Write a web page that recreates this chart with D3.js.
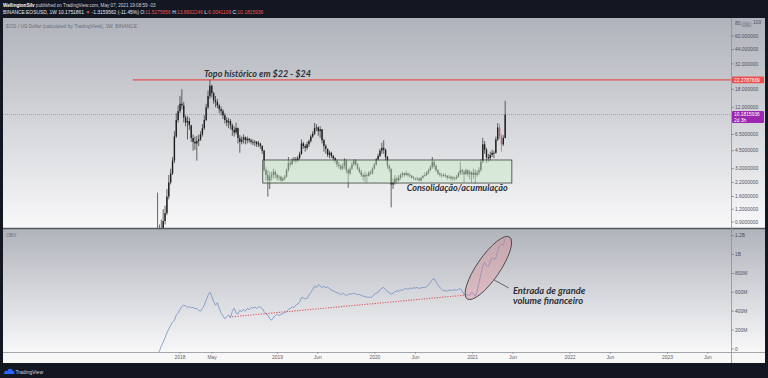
<!DOCTYPE html>
<html>
<head>
<meta charset="utf-8">
<script src="https://cdn.jsdelivr.net/npm/d3@7"></script>
<style>
  body { margin: 0; background: #131722; }
  svg { display: block; }
</style>
</head>
<body>
<div id="chart"></div>
<script>
var width = 768,
    height = 378;

var paneLeft = 3, axisX = 731, paneRight = 765;
var priceTop = 18, priceBottom = 228, obvTop = 229, obvBottom = 352, timeBottom = 363;

// weekly candles, first week starts 2017-10-02
var firstWeek = "2017-10-02";
var firstOpen = 0.5;
var closes = [
  0.55, 0.62, 0.72, 0.78, 0.92, 1.1, 1.6, 2.2, 2.7, 3.6,
  6.2, 9.0, 11.0, 13.0, 12.5, 9.5, 8.5, 8.8, 8.0, 6.0,
  5.5, 5.3, 5.6, 5.8, 6.5, 7.5, 9.0, 12.0, 15.5, 19.5,
  16.5, 14.0, 13.5, 12.5, 11.5, 11.0, 10.0, 9.0, 8.5, 8.8,
  8.0, 7.2, 6.8, 7.5, 6.0, 5.5, 5.8, 6.1, 5.7, 5.9,
  5.7, 5.5, 5.4, 5.5, 5.2, 5.3, 5.0, 4.5, 2.9, 2.6,
  2.3, 2.5, 2.6, 2.8, 2.6, 2.45, 2.5, 2.3, 2.4, 2.5,
  2.9, 3.4, 3.3, 3.6, 3.7, 3.6, 3.8, 4.2, 5.3, 5.0,
  4.8, 5.2, 5.6, 6.2, 6.6, 7.5, 7.6, 7.0, 7.3, 5.7,
  5.0, 4.7, 4.1, 4.3, 4.0, 3.8, 3.6, 3.3, 3.2, 3.0,
  3.2, 3.6, 2.9, 2.7, 3.0, 3.3, 3.6, 3.3, 3.0, 2.8,
  2.6, 2.5, 2.6, 2.55, 2.75, 2.7, 3.0, 3.3, 3.7, 4.0,
  4.5, 4.8, 4.6, 3.9, 3.2, 3.0, 2.1, 2.2, 2.4, 2.3,
  2.45, 2.6, 2.7, 2.6, 2.7, 2.6, 2.55, 2.45, 2.4, 2.35,
  2.4, 2.3, 2.45, 2.55, 2.6, 2.75, 2.9, 3.1, 3.5, 3.2,
  2.9, 2.7, 2.6, 2.55, 2.6, 2.55, 2.45, 2.5, 2.4, 2.45,
  2.4, 2.5, 2.7, 2.9, 2.8, 2.65, 2.9, 2.65, 2.8, 2.6,
  2.75, 2.6, 2.75, 2.9, 3.5, 5.2, 4.6, 3.9, 3.8, 4.1,
  4.3, 4.3, 5.8, 7.6, 6.2, 5.2, 6.0, 10.18
];
var highs = [
  0.65, 1.75, 0.85, 0.95, 1.2, 1.3, 1.9, 2.6, 3.0, 3.9,
  7.0, 10.5, 12.5, 15.5, 18.0, 13.5, 10.0, 9.8, 9.5, 8.0,
  6.5, 6.2, 6.3, 6.5, 7.0, 8.2, 10.0, 13.0, 17.5, 22.3,
  20.0, 17.0, 15.5, 14.5, 13.0, 12.2, 11.5, 10.5, 9.6, 9.4,
  9.2, 8.3, 7.8, 8.5, 7.6, 6.4, 6.2, 6.5, 6.2, 6.2,
  6.0, 5.9, 5.8, 5.7, 5.6, 5.6, 5.4, 5.1, 4.6, 3.1,
  2.9, 2.8, 2.8, 3.0, 2.9, 2.7, 2.6, 2.55, 2.5, 2.6,
  3.0, 3.9, 3.6, 3.8, 3.9, 3.9, 4.0, 4.4, 5.8, 5.5,
  5.2, 5.5, 5.8, 6.5, 7.0, 8.4, 8.2, 7.8, 7.8, 7.3,
  5.9, 5.2, 4.7, 4.5, 4.4, 4.1, 3.9, 3.7, 3.5, 3.3,
  3.4, 3.8, 3.7, 3.0, 3.1, 3.5, 3.7, 3.7, 3.4, 3.1,
  2.9, 2.7, 2.8, 2.7, 2.85, 2.9, 3.1, 3.4, 3.8, 4.2,
  4.7, 5.4, 5.7, 4.7, 4.0, 3.3, 3.0, 2.4, 2.6, 2.5,
  2.6, 2.7, 2.8, 2.75, 2.85, 2.75, 2.7, 2.6, 2.55, 2.45,
  2.5, 2.45, 2.5, 2.6, 2.75, 2.85, 3.0, 3.25, 3.9, 3.6,
  3.3, 2.95, 2.75, 2.7, 2.7, 2.7, 2.6, 2.6, 2.55, 2.55,
  2.5, 2.6, 2.8, 3.5, 3.0, 2.9, 3.0, 2.95, 2.9, 2.8,
  3.0, 2.95, 2.9, 3.1, 3.7, 6.0, 5.6, 4.8, 4.2, 4.4,
  4.6, 4.5, 6.2, 8.4, 8.2, 6.6, 6.4, 13.89
];
var lows = [
  0.45, 0.5, 0.6, 0.7, 0.75, 0.85, 1.05, 1.5, 2.1, 2.6,
  3.4, 6.0, 8.5, 10.5, 11.5, 8.5, 7.8, 5.8, 7.2, 5.5,
  4.5, 4.6, 3.6, 5.0, 5.6, 6.2, 7.2, 8.8, 11.5, 14.5,
  15.0, 13.0, 12.0, 11.8, 10.5, 10.0, 9.2, 8.3, 7.8, 7.5,
  7.3, 6.3, 6.2, 6.5, 5.3, 4.3, 5.2, 5.3, 5.2, 5.3,
  5.4, 5.2, 5.1, 5.0, 4.9, 4.9, 4.7, 4.2, 2.8, 2.3,
  1.6, 1.9, 2.3, 2.4, 2.4, 2.3, 2.3, 2.25, 2.25, 2.3,
  2.45, 2.8, 3.1, 3.3, 3.5, 3.4, 3.5, 3.7, 4.1, 4.7,
  4.4, 4.6, 4.9, 5.4, 6.0, 6.4, 7.0, 6.3, 6.0, 5.3,
  4.4, 4.2, 3.9, 3.8, 3.8, 3.6, 3.4, 3.1, 3.0, 2.9,
  2.9, 3.0, 2.7, 1.95, 2.6, 2.9, 3.2, 3.2, 2.9, 2.7,
  2.5, 2.3, 2.2, 2.2, 2.5, 2.6, 2.65, 2.95, 3.2, 3.6,
  3.9, 4.2, 4.2, 3.6, 3.0, 2.8, 1.25, 1.9, 2.1, 2.15,
  2.25, 2.35, 2.45, 2.5, 2.55, 2.5, 2.45, 2.4, 2.35, 2.3,
  2.3, 2.25, 2.25, 2.4, 2.5, 2.55, 2.65, 2.85, 3.0, 3.0,
  2.8, 2.6, 2.5, 2.45, 2.5, 2.45, 2.35, 2.4, 2.3, 2.3,
  2.3, 2.35, 2.45, 2.6, 2.6, 2.2, 2.6, 2.5, 2.35, 2.2,
  2.4, 2.15, 2.5, 2.6, 2.8, 3.4, 4.2, 3.4, 3.5, 3.6,
  3.9, 3.8, 4.2, 5.6, 5.9, 4.4, 5.0, 5.95
];
var redWeeks = ["2021-04-12", "2021-04-19"];

// OBV in millions, same weeks
var obvM = [
  -120, -60, -20, 30, 70, 120, 170, 210, 250, 285,
  300, 360, 380, 420, 450, 463, 455, 440, 448, 437,
  441, 425, 430, 410, 400, 432, 463, 516, 570, 600,
  560, 500, 463, 490, 430, 380, 350, 320, 345, 360,
  330, 400, 432, 380, 370, 410, 395, 420, 400, 430,
  415, 440, 432, 445, 430, 442, 445, 430, 395, 370,
  360, 320, 305, 335, 350, 370, 355, 365, 375, 385,
  395, 420, 430, 445, 440, 465, 475, 500, 545, 540,
  530, 535, 570, 600, 630, 665, 650, 680, 668, 650,
  665, 650, 655, 640, 625, 615, 605, 595, 590, 575,
  590, 580, 565, 575, 585, 580, 590, 583, 575, 578,
  565, 560, 555, 548, 550, 545, 555, 580, 590, 600,
  625, 645, 650, 630, 605, 595, 580, 590, 605, 615,
  610, 625, 620, 635, 640, 630, 645, 640, 648, 645,
  650, 640, 648, 652, 650, 660, 680, 705, 735, 745,
  710, 680, 650, 635, 615, 620, 612, 625, 618, 622,
  628, 620, 632, 640, 615, 575, 578, 570, 568, 600,
  585, 560, 610, 705, 790, 880, 915, 880, 870, 930,
  965, 950, 958, 1040, 1095, 1110, 1100, 1165
];

var priceTicks = [0.9, 1.2, 1.6, 2.2, 3, 4.5, 6.5, 12, 18, 32, 44, 60];
var obvTicks = [0, 200, 400, 600, 800, 1000, 1200];
var obvTickLabels = ["0", "200M", "400M", "600M", "800M", "1B", "1.2B"];
var timeTickDates = ["2018-01-01", "2018-05-01", "2019-01-01", "2019-06-01", "2020-01-01", "2020-06-01",
                     "2021-01-01", "2021-06-01", "2022-01-01", "2022-06-01", "2023-01-01", "2023-06-01"];
var timeTickLabels = ["2018", "May", "2019", "Jun", "2020", "Jun", "2021", "Jun", "2022", "Jun", "2023", "Jun"];

var athPrice = 22.2787669, lastPrice = 10.1815936;
var athLineStart = "2017-07-08";
var boxRange = ["2018-11-07", "2021-05-28"], boxPrices = [3.65, 2.17];
var trendDates = ["2018-07-06", "2020-12-07"], trendValues = [339, 571];

var parse = d3.utcParse("%Y-%m-%d");
var weeks = closes.map(function(c, i) { return d3.utcDay.offset(parse(firstWeek), 7 * i); });
var fmtDay = d3.utcFormat("%Y-%m-%d");

var x = d3.scaleUtc()
    .domain([parse("2018-01-01"), parse("2023-01-01")])
    .range([180, 667.5]);
var y = d3.scaleLog().domain([0.9, 60]).range([222, 36]);
var yObv = d3.scaleLinear().domain([0, 1200]).range([349, 235.6]);

var svg = d3.select("#chart").append("svg")
    .attr("width", width)
    .attr("height", height)
    .style("font-family", "'Liberation Sans', Arial, sans-serif");

var defs = svg.append("defs");
var grad = defs.append("linearGradient").attr("id", "paneGrad")
    .attr("x1", 0).attr("y1", 0).attr("x2", 0).attr("y2", 1);
grad.append("stop").attr("offset", "0%").attr("stop-color", "#b0b3bb");
grad.append("stop").attr("offset", "100%").attr("stop-color", "#f8f8f9");
defs.append("clipPath").attr("id", "clipPrice").append("rect")
    .attr("x", paneLeft).attr("y", priceTop).attr("width", axisX - paneLeft).attr("height", priceBottom - priceTop);
defs.append("clipPath").attr("id", "clipObv").append("rect")
    .attr("x", paneLeft).attr("y", obvTop).attr("width", axisX - paneLeft).attr("height", obvBottom - obvTop);

// backgrounds
svg.append("rect").attr("width", width).attr("height", height).attr("fill", "#131722");
svg.append("rect").attr("x", paneLeft).attr("y", priceTop)
    .attr("width", paneRight - paneLeft).attr("height", priceBottom - priceTop).attr("fill", "url(#paneGrad)");
svg.append("rect").attr("x", paneLeft).attr("y", obvTop)
    .attr("width", paneRight - paneLeft).attr("height", obvBottom - obvTop).attr("fill", "url(#paneGrad)");
svg.append("rect").attr("x", paneLeft).attr("y", obvBottom)
    .attr("width", paneRight - paneLeft).attr("height", timeBottom - obvBottom).attr("fill", "#f7f7f8");

// header
var h1 = svg.append("text").attr("x", 3).attr("y", 7).attr("font-size", 4.6).attr("fill", "#d1d4dc");
h1.append("tspan").attr("font-weight", "bold").attr("fill", "#ffffff").text("WellingtonSilv");
h1.append("tspan").text(" published on TradingView.com, May 07, 2021 19:08:59 -03");

var h2 = svg.append("text").attr("x", 3).attr("y", 13.8).attr("font-size", 4.9).attr("fill", "#e6e8ee");
var h2parts = [
  ["BINANCE:EOSUSD, 1W  10.1751861 ", "#e6e8ee"], ["\u25BC", "#ef5350"], [" -1.3159562 (-11.45%) O:", "#e6e8ee"],
  ["11.5275656", "#ef5350"], [" H:", "#e6e8ee"], ["13.8902246", "#ef5350"], [" L:", "#e6e8ee"],
  ["6.0041109", "#ef5350"], [" C:", "#e6e8ee"], ["10.1815936", "#ef5350"]
];
h2parts.forEach(function(p) { h2.append("tspan").attr("fill", p[1]).text(p[0]); });

// price pane
var price = svg.append("g").attr("clip-path", "url(#clipPrice)");

price.append("line")
    .attr("x1", paneLeft).attr("x2", axisX)
    .attr("y1", y(lastPrice)).attr("y2", y(lastPrice))
    .attr("stroke", "#a184b0").attr("stroke-width", 0.7).attr("stroke-dasharray", "1,1");

price.append("line")
    .attr("x1", x(parse(athLineStart))).attr("x2", axisX)
    .attr("y1", y(athPrice)).attr("y2", y(athPrice))
    .attr("stroke", "#e4544e").attr("stroke-width", 1.3);

var candles = price.selectAll("g.candle")
    .data(closes.map(function(c, i) {
      return { date: weeks[i], o: i ? closes[i - 1] : firstOpen, h: highs[i], l: lows[i], c: c };
    }))
    .enter().append("g").attr("class", "candle");

candles.append("line")
    .attr("x1", function(d) { return x(d.date); })
    .attr("x2", function(d) { return x(d.date); })
    .attr("y1", function(d) { return y(d.h); })
    .attr("y2", function(d) { return y(d.l); })
    .attr("stroke", function(d) { return redWeeks.indexOf(fmtDay(d.date)) >= 0 ? "#c95c66" : "#2a2a2a"; })
    .attr("stroke-width", 0.7);

candles.append("rect")
    .attr("x", function(d) { return x(d.date) - 0.7; })
    .attr("width", 1.4)
    .attr("y", function(d) { return Math.min(y(d.o), y(d.c)); })
    .attr("height", function(d) { return Math.max(0.8, Math.abs(y(d.o) - y(d.c))); })
    .attr("fill", function(d) { return redWeeks.indexOf(fmtDay(d.date)) >= 0 ? "#c95c66" : "#1e1e1e"; });

// consolidation box
price.append("rect")
    .attr("x", x(parse(boxRange[0])))
    .attr("width", x(parse(boxRange[1])) - x(parse(boxRange[0])))
    .attr("y", y(boxPrices[0]))
    .attr("height", y(boxPrices[1]) - y(boxPrices[0]))
    .attr("fill", "rgba(200,236,200,0.5)")
    .attr("stroke", "#3d3d3d").attr("stroke-width", 0.8);

var noteFont = "Lato, 'Open Sans', sans-serif";
price.append("text")
    .attr("x", x(parse("2018-04-01"))).attr("y", y(24.0))
    .attr("font-family", noteFont).attr("font-style", "italic").attr("font-weight", 700)
    .attr("font-size", 9).attr("fill", "#2f3138")
    .text("Topo hist\u00f3rico em $22 - $24");

price.append("text")
    .attr("x", x(parse("2020-04-29"))).attr("y", y(1.81))
    .attr("font-family", noteFont).attr("font-style", "italic").attr("font-weight", 700)
    .attr("font-size", 9.1).attr("fill", "#2f3138")
    .text("Consolida\u00e7\u00e3o/acumula\u00e7\u00e3o");

svg.append("text").attr("x", 6).attr("y", 27.5).attr("font-size", 4.9).attr("fill", "#6b6f7a")
    .text("EOS / US Dollar (calculated by TradingView), 1W, BINANCE");

// OBV pane
var obvG = svg.append("g").attr("clip-path", "url(#clipObv)");

obvG.append("line")
    .attr("x1", x(parse(trendDates[0]))).attr("x2", x(parse(trendDates[1])))
    .attr("y1", yObv(trendValues[0])).attr("y2", yObv(trendValues[1]))
    .attr("stroke", "#e0525a").attr("stroke-width", 1.1).attr("stroke-dasharray", "1.2,1.4");

obvG.append("path")
    .datum(obvM)
    .attr("fill", "none")
    .attr("stroke", "#7391c4").attr("stroke-width", 0.8)
    .attr("d", d3.line()
        .x(function(d, i) { return x(weeks[i]); })
        .y(function(d) { return yObv(d); }));

var ellCx = x(parse("2021-03-01")), ellCy = yObv(857);
obvG.append("ellipse")
    .attr("cx", ellCx).attr("cy", ellCy).attr("rx", 37.5).attr("ry", 11.5)
    .attr("transform", "rotate(-55.5," + ellCx + "," + ellCy + ")")
    .attr("fill", "rgba(232,130,140,0.33)")
    .attr("stroke", "#4a4a4e").attr("stroke-width", 0.9);

obvG.append("line")
    .attr("x1", x(parse("2021-03-23"))).attr("y1", yObv(730))
    .attr("x2", x(parse("2021-05-17"))).attr("y2", yObv(645))
    .attr("stroke", "#4a4a4e").attr("stroke-width", 0.8);

var note2 = obvG.append("text")
    .attr("font-family", noteFont).attr("font-style", "italic").attr("font-weight", 700)
    .attr("font-size", 9.4).attr("fill", "#2f3138");
note2.append("tspan").attr("x", x(parse("2021-06-01"))).attr("y", yObv(577)).text("Entrada de grande");
note2.append("tspan").attr("x", x(parse("2021-06-01"))).attr("y", yObv(471)).text("volume financeiro");

svg.append("text").attr("x", 6).attr("y", 237).attr("font-size", 4.9).attr("fill", "#6b6f7a").text("OBV");

// pane borders
svg.append("line").attr("x1", paneLeft).attr("x2", paneRight).attr("y1", 228.5).attr("y2", 228.5)
    .attr("stroke", "#55585f").attr("stroke-width", 1.4);
svg.append("line").attr("x1", paneLeft).attr("x2", paneRight).attr("y1", obvBottom + 0.5).attr("y2", obvBottom + 0.5)
    .attr("stroke", "#8d9099").attr("stroke-width", 0.8);
svg.append("line").attr("x1", axisX + 0.5).attr("x2", axisX + 0.5).attr("y1", priceTop).attr("y2", timeBottom)
    .attr("stroke", "#8d9099").attr("stroke-width", 0.8);

// price axis
var fmtPrice = function(v) { return v < 10 ? d3.format(".7f")(v) : d3.format(".6f")(v); };
var pAxis = svg.append("g").selectAll("g").data(priceTicks).enter().append("g")
    .attr("transform", function(d) { return "translate(0," + y(d) + ")"; });
pAxis.append("line").attr("x1", axisX).attr("x2", axisX + 3).attr("stroke", "#6b6f7a").attr("stroke-width", 0.6);
pAxis.append("text").attr("x", axisX + 4).attr("dy", "0.35em").attr("font-size", 4.9).attr("fill", "#4e525c")
    .text(fmtPrice);

// top corner label
svg.append("text").attr("x", axisX + 4).attr("y", y(80)).attr("dy", "0.35em").attr("font-size", 4.9)
    .attr("fill", "#4e525c").text("80.");
svg.append("rect").attr("x", axisX + 11).attr("y", y(80) - 1).attr("width", 9).attr("height", 4.5)
    .attr("fill", "none").attr("stroke", "#6b6f7a").attr("stroke-width", 0.4).attr("rx", 0.8);
svg.append("text").attr("x", axisX + 12).attr("y", y(80) + 2.6).attr("font-size", 3.2)
    .attr("fill", "#4e525c").text("USD");
svg.append("text").attr("x", axisX + 22).attr("y", y(80) - 1).attr("dy", "0.35em").attr("font-size", 4.9)
    .attr("fill", "#4e525c").text("100");

// ath label
svg.append("rect").attr("x", axisX + 1).attr("y", y(athPrice) - 3.3).attr("width", 32).attr("height", 6.6)
    .attr("rx", 1).attr("fill", "#ec4d4d");
svg.append("text").attr("x", axisX + 3).attr("y", y(athPrice)).attr("dy", "0.35em").attr("font-size", 4.9)
    .attr("fill", "#ffffff").text("22.2787669");

// last price label
svg.append("rect").attr("x", axisX + 1).attr("y", y(lastPrice) - 3.6).attr("width", 32).attr("height", 12)
    .attr("rx", 1).attr("fill", "#9c27b0");
svg.append("text").attr("x", axisX + 3).attr("y", y(lastPrice)).attr("dy", "0.35em").attr("font-size", 4.9)
    .attr("fill", "#ffffff").text(d3.format(".7f")(lastPrice));
svg.append("text").attr("x", axisX + 3).attr("y", y(lastPrice) + 5.4).attr("dy", "0.35em").attr("font-size", 4.9)
    .attr("fill", "#ffffff").text("2d 3h");

// obv axis
var oAxis = svg.append("g").selectAll("g").data(obvTicks).enter().append("g")
    .attr("transform", function(d) { return "translate(0," + yObv(d) + ")"; });
oAxis.append("line").attr("x1", axisX).attr("x2", axisX + 3).attr("stroke", "#6b6f7a").attr("stroke-width", 0.6);
oAxis.append("text").attr("x", axisX + 4).attr("dy", "0.35em").attr("font-size", 4.9).attr("fill", "#4e525c")
    .text(function(d, i) { return obvTickLabels[i]; });

// time axis
var tAxis = svg.append("g").selectAll("g").data(timeTickDates).enter().append("g")
    .attr("transform", function(d) { return "translate(" + x(parse(d)) + ",0)"; });
tAxis.append("line").attr("y1", obvBottom).attr("y2", obvBottom + 2).attr("stroke", "#6b6f7a").attr("stroke-width", 0.5);
tAxis.append("text").attr("y", 359).attr("text-anchor", "middle").attr("font-size", 4.9).attr("fill", "#5d606b")
    .text(function(d, i) { return timeTickLabels[i]; });

// footer
var logo = svg.append("g").attr("transform", "translate(4,368)");
logo.append("path").attr("d", "M0,6 C0,3 2,2 3.5,3 C4,0.5 7.5,0 8.5,2.5 C10.5,2.5 11,5 10,6 Z").attr("fill", "#2962ff");
svg.append("text").attr("x", 15.5).attr("y", 374).attr("font-size", 5).attr("fill", "#d1d4dc").text("TradingView");
</script>
</body>
</html>
